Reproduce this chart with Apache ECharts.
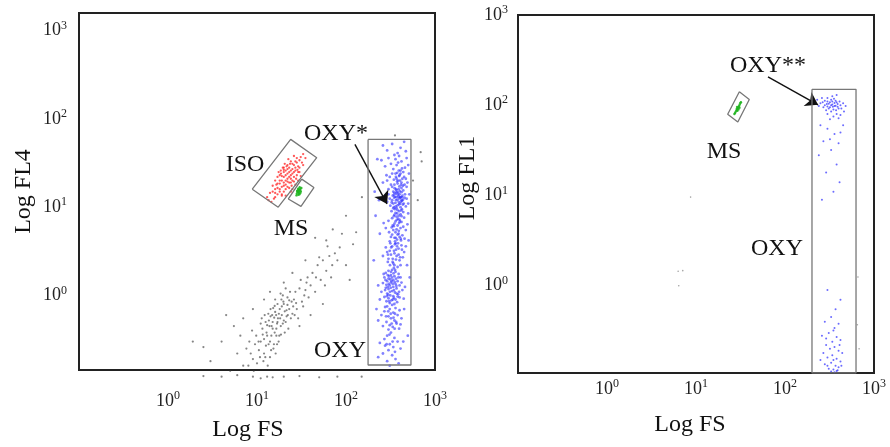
<!DOCTYPE html>
<html>
<head>
<meta charset="utf-8">
<script src="https://cdn.jsdelivr.net/npm/echarts@6/dist/echarts.min.js"></script>
<style>
  html, body { margin: 0; padding: 0; background: #fff; }
  #chart { width: 890px; height: 447px; }
</style>
</head>
<body>
<div id="chart"></div>
<script>
// decades shown on the axes (10^n)
const decadeLabels = [0, 1, 2, 3];

// left panel: Log FS vs Log FL4  [FS, FL4]
const leftOxy = [
  [330,52],[410,47],[290,44],[380,41],[450,55],[350,39],[470,43],[260,50],
  [300,36],[420,33],[370,30],[460,28],[340,27],[250,34],[395,38],[480,36],[320,31],[440,25],[360,35],[275,29],[410,26],[500,30],[385,32],
  [330,24],[400,23],[450,22],[370,21],[290,20],[420,19],[350,18],[480,17],[310,22],[390,16],[440,15.5],[360,24],[405,20],[330,17],[260,19],
  [470,21],[380,18.5],[420,16.5],[340,15],[300,16],[395,22.5],[455,18],[365,16],[410,24],[285,23],[375,19.5],[430,21],[345,20.5],[490,19],[320,18],
  [350,14.5],[400,14],[430,13.5],[370,13],[310,12.5],[420,12],[390,11.5],[340,11],[460,14],[380,10.5],[410,10],[355,9.5],[300,14],[445,11],
  [395,9],[365,12],[425,9.5],[335,13.5],[480,12.5],[405,13],[375,8.5],[345,10],[415,11.5],[385,14.5],[440,8.8],[325,9],[360,11.2],[400,12.6],
  [470,10.2],[290,11.5],[350,8.2],[420,14.8],[390,13.2],[330,12],[455,12.8],[370,9.8],[410,8.3],[380,12.2],[435,10.7],[345,13.8],[395,10.8],
  [365,14.2],[280,13],[500,11],[315,10.4],[425,13],[360,8.6],[405,11],
  [370,7.8],[330,7.5],[400,7.2],[420,6.8],[350,6.5],[300,7],[450,7.6],[380,6.2],[410,5.8],[340,5.5],[360,5.2],[390,5],[430,4.8],[320,4.6],
  [470,5.5],[375,4.3],[345,7.9],[395,6.6],[280,5.8],[415,4.2],[360,6.9],[330,4.9],[440,6],[305,5.2],[385,7.4],[350,4.5],[420,7.9],[265,6.6],
  [400,4.6],[490,6.4],[370,5.6],[335,6.2],[455,4.4],[310,4.1],[380,4.9],
  [360,3.9],[330,3.6],[390,3.4],[310,3.2],[420,3.7],[350,3],[370,2.8],[300,2.6],[400,2.5],[340,2.3],[450,3.1],[280,3.5],[380,2.1],[320,2.9],
  [410,2.2],[355,3.8],[295,2.4],[435,2.7],[365,3.3],[260,2.8],[470,3.6],[345,2.05],[390,2.9],[315,3.9],[425,3.3],[335,2.6],[375,3.6],[290,3.1],
  [405,2.7],[350,2.2],
  [330,1.95],[300,1.9],[360,1.85],[280,1.8],[390,1.75],[320,1.7],[350,1.65],[270,1.6],[410,1.6],[300,1.55],[340,1.5],[380,1.45],[290,1.45],
  [320,1.4],[260,1.38],[360,1.35],[400,1.3],[310,1.3],[340,1.25],[280,1.22],[370,1.2],[300,1.18],[430,1.15],[330,1.12],[250,1.1],[355,1.08],
  [290,1.05],[385,1.03],[315,1],[340,0.98],[270,0.96],[400,0.95],[300,0.93],[360,0.9],[325,0.88],[445,0.92],[285,0.86],[375,0.84],[310,0.82],
  [350,0.8],[240,0.9],[420,1.4],[265,1.75],[395,1.1],[305,1.65],[335,1.35],[295,1.25],[365,1.55],[275,1.15],[345,0.94],[320,1.85],[380,0.97],
  [230,1.3],[460,1.25],[315,1.52],
  [330,0.78],[290,0.75],[360,0.72],[310,0.7],[400,0.68],[270,0.66],[340,0.64],[380,0.6],[300,0.58],[320,0.55],[250,0.6],[350,0.52],[420,0.55],
  [285,0.5],[370,0.48],[310,0.46],[335,0.44],[260,0.45],[395,0.42],[300,0.41],[450,0.7],[230,0.52],[355,0.62],[275,0.74],[410,0.47],
  [320,0.38],[290,0.35],[350,0.33],[270,0.32],[380,0.3],[310,0.28],[240,0.29],[340,0.26],[300,0.24],[410,0.25],[260,0.22],[330,0.21],
  [360,0.19],[290,0.18],[230,0.2],[390,0.17],[310,0.16],[440,0.3],[275,0.27],[355,0.23],
  [385,13.7],[362,10.2],[418,9.2],[348,12.8],[402,15.2],[372,14.8],[438,12.2],[326,11.3],[392,8],[356,13.1],[412,12.9],[378,9.3],
  [340,9.7],[428,11.8],[368,15.5],[398,17.2],[352,16.4],[416,18],[384,20],[436,17.5],[364,22],[392,26],[426,27.5],[376,24.5],
  [302,1.35],[328,1.6],[346,1.15],[284,1.32],[312,1.1],[352,1.42],[336,0.9],[294,1.7],[368,1.28],[318,1.22],[288,0.98],[342,1.78],
  [306,0.86],[372,1.05],[326,1.45],[278,1.5],[356,1.95],[298,1.02],[388,1.6],[334,2.4],[312,2.2],[364,2.55],[296,2.9],[346,3.2],
  [322,3.5],[384,3.9],[362,4.5],[392,5.4],[344,6.1],[402,6.9],[372,7.2],[326,5.9],[412,4.4],[356,4.1],
  [318,0.62],[342,0.56],[298,0.66],[366,0.5],[326,0.48],[282,0.58],[352,0.42],[308,0.36],[334,0.3],[286,0.28],
  [215,8],[205,2.5],[220,0.7],[210,15],[225,35],[515,14],[505,4.2],[520,1.6],[495,0.35],[510,24],[240,5],[235,12],[500,8.5],[485,2.2]
];
const leftDebris = [
  [8,0.16],[8.5,0.22],[9,0.19],[9.5,0.28],[10,0.17],[8.2,0.3],[9.8,0.35],[10.5,0.24],[9.2,0.14],[10.8,0.2],[7.6,0.25],[8.8,0.4],
  [11,0.3],[11.5,0.42],[12,0.22],[12.5,0.5],[13,0.35],[13.5,0.28],[11.8,0.18],[12.2,0.6],[13.8,0.45],[14,0.2],[11.3,0.55],[12.8,0.38],
  [13.2,0.16],[11,0.48],[12,0.32],[14.2,0.58],
  [14.5,0.35],[15,0.5],[15.5,0.28],[16,0.65],[16.5,0.42],[17,0.8],[17.5,0.3],[15.2,0.72],[16.2,0.22],[14.8,0.6],[17.2,0.55],[15.8,0.38],
  [16.8,0.48],[18,0.7],[14.6,0.45],[17.8,0.35],[16,0.9],[15.3,0.25],
  [18.5,0.45],[19,0.6],[20,0.8],[21,0.5],[22,0.95],[23,0.7],[24,0.55],[19.5,1.0],[20.5,0.38],[21.5,0.68],[22.5,0.42],[23.5,1.1],[24.5,0.85],
  [19,0.75],[25,0.62],[20,0.52],[22,0.78],[18.8,0.9],
  [26,0.9],[28,0.7],[30,1.2],[32,0.85],[34,1.0],[36,1.4],[27,1.1],[29,0.55],[31,1.5],[33,0.75],[35,1.15],[38,0.95],[26.5,0.6],[40,1.3],[37,1.6],
  [42,1.8],[45,1.1],[48,2.2],[52,1.5],[55,2.5],[60,1.9],[65,2.8],[70,2.2],[75,3],[50,2.7],[58,1.3],[68,1.6],[80,2.5],[85,3.5],[46,1.6],
  [3,0.18],[4,0.3],[5,0.14],[5.5,0.45],[6,0.22],[6.5,0.35],[7,0.16],[2.5,0.26],[4.5,0.6],[7,0.55],[12,0.9],[9,0.7],[40,0.6],[30,0.45],
  [55,0.8],[100,2.2],[120,3.8],[90,5],[110,1.5],[60,4.2],[1.9,0.3],[35,2.5],[25,1.8],[20,1.4],[14,1.1],
  [71,5.6],[151,13],[130,5.2],[62,3.6],[100,8],[45,4.5],
  [14,0.3],[15,0.42],[16.5,0.35],[17,0.5],[15.6,0.56],[13.6,0.52],[18.2,0.55],[19.5,0.48],[16.4,0.6],[14.4,0.24],[12.6,0.27],[13,0.46],
  [17.6,0.62],[18.6,0.36],[20.5,0.66],[21.5,0.58],[15.8,0.76],[11.6,0.36],[10.4,0.3],[12.4,0.2],[19.8,0.85],[23,0.88],[25.5,0.75],
  [22.2,0.6],[14.2,0.7],[16.8,0.28],[13.4,0.62],[18.4,1.05],[21,1.2],[27.5,0.82],
  [9,0.12],[11,0.115],[13,0.12],[15,0.118],[4,0.12],[6,0.125],[20,0.12],[30,0.122],[50,0.118],[80,0.12],[150,0.12],[2.5,0.122],
  [708,33],[566,20],[355,65],[640,12],[690,42]
];
const leftIso = [
  [22,21],[20,19],[24,23],[19,17],[23,25],[21,18],[18,16],[25,27],[22,24],[20,22],[17,14],[26,30],[21,20],[23,19],[19,20],[24,21],
  [18,18.5],[22,17],[20,15],[25,24],[27,28],[16,14.5],[21,23],[23,22],[19,13.5],[28,32],[24,26],[20,25],[22,19.5],[26,25],[18,15],
  [21,16],[23,28],[17,16.5],[25,31],[30,34],[15.5,12.5],[19,22.5],[27,26],[22,27],[24,19],[20,17.5],[29,29],[16,13],[26,22],[21,26],
  [18,20],[23,16.5],[31,37],[14.5,11.5],[25,20],[28,36],[17,18.5],[22,30],[30,28],[19,14],[24,33],[20,28],[27,33],[16,16],[26,38],
  [33,40],[21,13.5],[15,15],[29,25],[13.5,12],[32,32],[18,23],
  [27,18],[18.6,24],[29,20],[17,22],[25,16],[20,26.5],[31,22.5],[16,20],[28,23],[15,17.5],[26,19.5],[19.5,28],[30,25],[14,14.5],
  [24,15],[17.5,25],[33,30],[21.5,29],[27.5,21],[16.5,18],[23.5,31],[13,13],[28.5,26.5],[18.5,26],[22.5,35],[35,36],[20.5,31],[24.5,17.5]
];
const leftMs = [
  [29,15],[30,15.5],[29.5,14.5],[28.5,14.8],[30.5,16],[29,16.2],[31,15.2],[28,14.2],[30,14],[29.8,15.8],[28.8,15.6],[30.8,14.6],
  [29.2,13.8],[31.5,16.5],[28.2,15.3],[30.2,16.8],[29.6,15.1],[27.8,13.6]
];

// right panel: Log FS vs Log FL1  [FS, FL1]
const rightOxy = [
  [250,105],[280,100],[300,110],[320,95],[340,102],[360,98],[380,108],[400,92],[420,100],[290,88],[310,104],[330,115],[350,90],[370,112],
  [390,96],[270,95],[450,105],[300,120],[330,85],[360,106],[410,110],[240,98],[280,112],[320,108],[345,96],[375,88],[300,97],[330,100],
  [355,118],[390,103],[265,108],[430,92],[310,92],[340,110],[295,103],[370,99],[480,98],[260,120],[380,80],[350,75],[420,78],[320,70],
  [300,80],[400,72],[460,85],[230,115],[340,126],[380,130],
  [250,60],[300,55],[420,50],[360,48],[270,40],[400,38],[330,32],[240,28],[380,22],[290,18],[410,14],[350,11],[260,9],[320,42],[450,60],
  [300,0.9],[420,0.7],[370,0.55],[330,0.45],[280,0.4],[400,0.38],[350,0.32],[310,0.3],[260,0.28],[380,0.27],[420,0.25],[340,0.24],
  [290,0.22],[360,0.21],[320,0.2],[400,0.19],[270,0.18],[440,0.18],[340,0.17],[300,0.16],[380,0.155],[350,0.15],[420,0.145],[330,0.14],
  [280,0.135],[370,0.13],[400,0.125],[310,0.12],[350,0.118],[380,0.114],[330,0.112],[360,0.11],[390,0.116],[300,0.13],[430,0.13],
  [250,0.15],[360,0.34],[410,0.22],[290,0.26]
];
const rightMs = [
  [29.5,93],[30.5,98],[28.5,88],[31,102],[28,85],[30,95],[29,90],[31.5,106],[27.5,82],[30,90],[29,96],[32,108],[28.8,92],[30.8,94],
  [29.2,87],[27,80]
];
const rightDebris = [
  [8.7,9.6],[6.3,1.45],[7.1,1.47],[6.4,1.0],[660,1.25],[650,0.37],[680,0.2]
];

// gates (closed outlines) and arrows, in data units
const leftOxyGate = [[177,58.6],[537,58.6],[537,0.163],[177,0.163],[177,58.6]];
const leftIsoGate = [[8.85,16],[23.9,58.6],[46.9,36.4],[17.3,10],[8.85,16]];
const leftMsGate = [[31.8,20.8],[43.6,16.7],[31.2,10.2],[22.5,12.4],[31.8,20.8]];
const leftArrow = [[126,51.4],[289,10.9]];
const rightOxyGate = [[201,150],[628,150],[628,0.108],[201,0.108],[201,150]];
const rightMsGate = [[30.7,141],[39.7,116],[29.5,65.2],[22.7,79.4],[30.7,141]];
const rightArrow = [[64.4,206],[235,101]];

const serif = 'Liberation Serif';

function decadeLabel(v) {
  const e = Math.log10(v);
  const r = Math.round(e);
  if (Math.abs(e - r) > 0.01 || decadeLabels.indexOf(r) < 0) return '';
  return '{b|10}{s|' + r + '}';
}
const labelRich = {
  b: { fontFamily: serif, fontSize: 18, lineHeight: 22, color: '#222' },
  s: { fontFamily: serif, fontSize: 12, lineHeight: 12, verticalAlign: 'top', color: '#222' }
};

function logAxis(gridIndex, min, max, margin, name, nameGap, namePadding) {
  return {
    type: 'log',
    logBase: 10,
    gridIndex: gridIndex,
    min: min,
    max: max,
    axisLine: { show: false },
    axisTick: { show: false },
    splitLine: { show: false },
    axisLabel: { formatter: decadeLabel, rich: labelRich, margin: margin },
    name: name,
    nameLocation: 'middle',
    nameGap: nameGap,
    nameTextStyle: { fontFamily: serif, fontSize: 24, color: '#111', padding: namePadding }
  };
}

function dots(data, gi, color, size, opacity) {
  return {
    type: 'scatter',
    xAxisIndex: gi,
    yAxisIndex: gi,
    data: data,
    symbolSize: size,
    clip: false,
    silent: true,
    itemStyle: { color: color, opacity: opacity }
  };
}

function gate(data, gi, arrow) {
  const s = {
    type: 'line',
    xAxisIndex: gi,
    yAxisIndex: gi,
    data: data,
    symbol: 'none',
    silent: true,
    z: 5,
    lineStyle: { color: '#777', width: 1.3 }
  };
  if (arrow) {
    s.markLine = {
      silent: true,
      symbol: ['none', 'arrow'],
      symbolSize: 12,
      label: { show: false },
      lineStyle: { color: '#111', width: 1.4, type: 'solid' },
      itemStyle: { color: '#111' },
      data: [[{ coord: arrow[0] }, { coord: arrow[1] }]]
    };
  }
  return s;
}

function note(text, x, y) {
  return {
    type: 'text',
    x: x,
    y: y,
    z: 10,
    style: {
      text: text,
      fill: '#111',
      font: '24px "' + serif + '"',
      align: 'center',
      verticalAlign: 'middle',
      textAlign: 'center',
      textVerticalAlign: 'middle'
    }
  };
}

const chart = echarts.init(document.getElementById('chart'), null, { renderer: 'canvas' });

const option = {
  animation: false,
  backgroundColor: '#fff',
  grid: [
    { left: 79, top: 13, width: 356, height: 359, show: true, borderColor: '#222', borderWidth: 2 },
    { left: 518, top: 15, width: 356, height: 358, show: true, borderColor: '#222', borderWidth: 2 }
  ],
  xAxis: [
    logAxis(0, 0.1, 1000, 20, 'Log FS', 48, [0, 18, 0, 0]),
    logAxis(1, 0.1, 1000, 5, 'Log FS', 40, [0, 12, 0, 0])
  ],
  yAxis: [
    logAxis(0, 0.143, 1585, 12, 'Log FL4', 43, [0, 0, 0, 0]),
    logAxis(1, 0.108, 1000, 10, 'Log FL1', 38, [0, 0, 0, 32])
  ],
  series: [
    dots(leftDebris, 0, '#333', 2.2, 0.6),
    dots(leftOxy, 0, '#2f2fff', 2.8, 0.6),
    dots(leftIso, 0, '#ff2020', 2.3, 0.75),
    dots(leftMs, 0, '#1fb51f', 2.4, 0.9),
    gate(leftOxyGate, 0, leftArrow),
    gate(leftIsoGate, 0),
    gate(leftMsGate, 0),
    dots(rightDebris, 1, '#666', 1.6, 0.6),
    dots(rightOxy, 1, '#3a3aff', 2, 0.75),
    dots(rightMs, 1, '#1fb51f', 2.4, 0.9),
    gate(rightOxyGate, 1, rightArrow),
    gate(rightMsGate, 1)
  ],
  graphic: [
    note('OXY*', 336, 134),
    note('ISO', 245, 165),
    note('MS', 291, 229),
    note('OXY', 340, 351),
    note('OXY**', 768, 66),
    note('MS', 724, 152),
    note('OXY', 777, 249)
  ]
};

chart.setOption(option);
</script>
</body>
</html>
